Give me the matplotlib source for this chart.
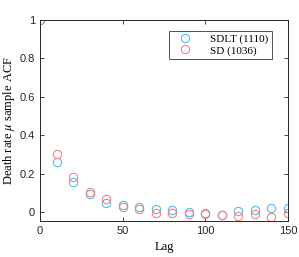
import matplotlib
matplotlib.use('Agg')
import matplotlib.pyplot as plt

# ACF values at lags 0, 10, ..., 150
lags = [0, 10, 20, 30, 40, 50, 60, 70, 80, 90, 100, 110, 120, 130, 140, 150]
acf_sdlt = [1.0, 0.26, 0.156, 0.095, 0.045, 0.034, 0.026, 0.015, 0.01, 0.0,
            -0.006, -0.015, 0.005, 0.01, 0.02, 0.02]
acf_sd = [1.0, 0.30, 0.18, 0.104, 0.066, 0.024, 0.017, -0.004, -0.003, -0.01,
          -0.008, -0.015, -0.02, -0.01, -0.028, -0.004]
labels = ['SDLT (1110)', 'SD (1036)']

plt.rcParams['mathtext.fontset'] = 'stix'
plt.rcParams['font.family'] = 'Liberation Sans'

fig = plt.figure(figsize=(2.99, 2.57), dpi=100)
ax = fig.add_axes([40 / 299, 36 / 257, 248 / 299, 201 / 257])

ax.plot(lags, acf_sdlt, 'o', mfc='none', mec='#4dbeee', ms=6, mew=0.8, label=labels[0])
ax.plot(lags, acf_sd, 'o', mfc='none', mec='#ff7f7f', ms=6, mew=0.8, label=labels[1])

ax.set_xlim(0, 150)
ax.set_ylim(-0.047, 1.0)
ax.set_xticks([0, 50, 100, 150])
ax.set_yticks([0, 0.2, 0.4, 0.6, 0.8, 1])
ax.set_yticklabels(['0', '0.2', '0.4', '0.6', '0.8', '1'])
ax.tick_params(direction='in', top=True, right=True, labelsize=8, length=3,
               width=0.6, colors='#262626')
for s in ax.spines.values():
    s.set_linewidth(0.7)
    s.set_color('#262626')

ax.set_xlabel('Lag', family='Liberation Serif', fontsize=9)
ax.set_ylabel(r'Death rate $\mu$ sample ACF', family='Liberation Serif', fontsize=9,
              labelpad=2)

leg = ax.legend(loc='upper right', bbox_to_anchor=(0.957, 0.975), prop={'family': 'Liberation Serif', 'size': 8},
                fancybox=False, edgecolor='#262626', handletextpad=1.2,
                borderpad=0.3, labelspacing=0.15, handlelength=2.2)
leg.get_frame().set_linewidth(0.7)

fig.savefig('out.png', dpi=100)
